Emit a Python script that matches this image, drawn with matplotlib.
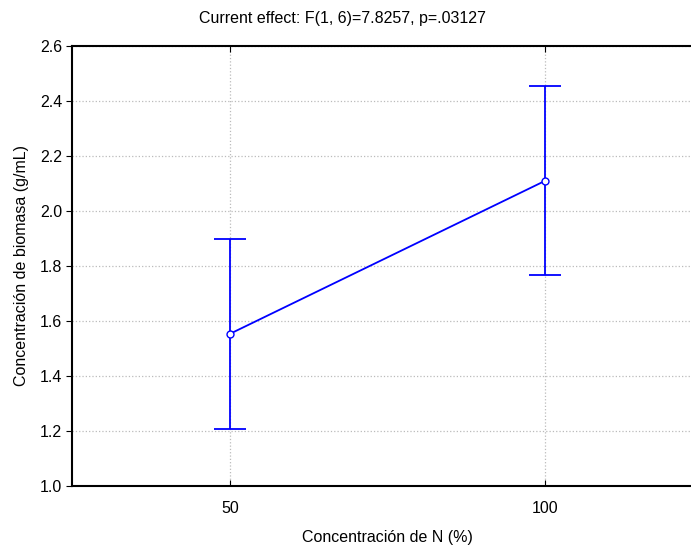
import matplotlib
matplotlib.use("Agg")
import matplotlib.pyplot as plt

# data
categories = ["50", "100"]
means = [1.553, 2.110]
upper = [1.897, 2.455]
lower = [1.209, 1.767]

plt.rcParams['font.family'] = ['Liberation Sans', 'DejaVu Sans']

fig = plt.figure(figsize=(6.91, 5.45), dpi=100)
ax = fig.add_axes([72 / 691, 59 / 545, 631 / 691, 440 / 545])

x = list(range(len(categories)))
err_lo = [m - l for m, l in zip(means, lower)]
err_hi = [u - m for m, u in zip(means, upper)]

ax.errorbar(x, means, yerr=[err_lo, err_hi], color='#0000ff', lw=1.3,
            capsize=11.5, capthick=1.3, marker='o', markersize=5,
            markerfacecolor='white', markeredgecolor='#0000ff', zorder=3)

ax.set_xlim(-0.5, 1.5)
ax.set_ylim(1.0, 2.6)
ax.set_xticks(x)
ax.set_xticklabels(categories)
ax.set_yticks([1.0, 1.2, 1.4, 1.6, 1.8, 2.0, 2.2, 2.4, 2.6])
ax.yaxis.set_major_formatter(matplotlib.ticker.FormatStrFormatter('%.1f'))

ax.grid(True, color='#bbbbbb', linestyle=':', linewidth=0.9)
ax.set_axisbelow(True)

for s in ['left', 'top', 'bottom']:
    ax.spines[s].set_linewidth(1.5)
ax.spines['right'].set_visible(False)

fs = 11.5
ax.tick_params(axis='y', direction='out', length=4, labelsize=fs, pad=3)
ax.tick_params(axis='x', direction='in', length=4, labelsize=fs, pad=11,
               top=True)

ax.set_xlabel("Concentración de N (%)", fontsize=fs, labelpad=10)
ax.set_ylabel("Concentración de biomasa (g/mL)", fontsize=fs, labelpad=8)
fig.text(342 / 691, 1 - 18 / 545, "Current effect: F(1, 6)=7.8257, p=.03127",
         ha='center', va='center', fontsize=fs)

fig.savefig("out.png", dpi=100)
